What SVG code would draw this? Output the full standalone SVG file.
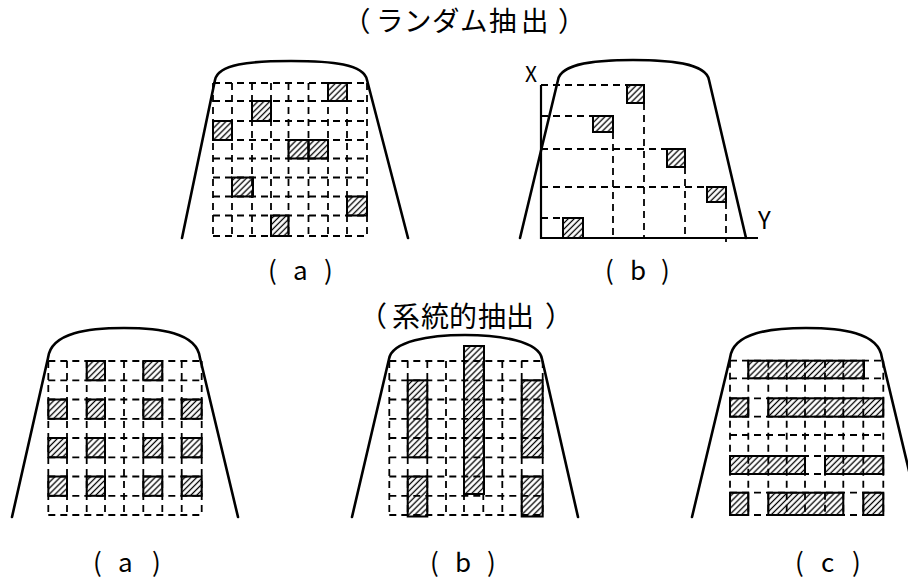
<svg xmlns="http://www.w3.org/2000/svg" width="908" height="578" viewBox="0 0 908 578">
<style>
.outline{fill:none;stroke:#000;stroke-width:2.6;stroke-linejoin:round;stroke-linecap:round}
.axis{fill:none;stroke:#000;stroke-width:2.2}
.grid{fill:none;stroke:#000;stroke-width:1.8;stroke-dasharray:7 5}
.h{fill:url(#hatch);stroke:#000;stroke-width:2}
.t{font-family:"Noto Sans CJK JP","Noto Sans",sans-serif;fill:#000}
</style>
<defs>
<pattern id="hatch" patternUnits="userSpaceOnUse" width="4.2" height="4.2" patternTransform="rotate(45)">
<line x1="2.1" y1="0" x2="2.1" y2="4.2" stroke="#000" stroke-width="1.3"/>
</pattern>
</defs>
<rect width="908" height="578" fill="#fff"/>

<text class="t" font-size="27.5" y="31" x="343 376 404 432 460 489 521 558">（ランダム抽出）</text>
<text class="t" font-size="28" y="327" x="359 392 421 449 478 506 545">（系統的抽出）</text>

<g id="random-a">
<path class="grid" d="M213 83H367M213 101H367M213 121H367M213 140H367M213 158.5H367M213 177.5H367M213 196.5H367M213 215.5H367M213 236H367M213 83V239M232 83V239M252 83V239M271 83V239M288.5 83V239M308.5 83V239M328 83V239M347 83V239M367 83V239"/>
<rect class="h" x="328" y="83" width="19" height="18"/>
<rect class="h" x="252" y="101" width="19" height="20"/>
<rect class="h" x="213" y="121" width="19" height="19"/>
<rect class="h" x="288.5" y="140" width="20" height="18.5"/>
<rect class="h" x="308.5" y="140" width="19.5" height="18.5"/>
<rect class="h" x="232" y="177.5" width="21" height="19"/>
<rect class="h" x="347" y="196.5" width="20" height="19"/>
<rect class="h" x="271" y="215.5" width="17.5" height="20.5"/>
<path class="outline" d="M215 80C218 64 250 61 291 61C332 61 364 64 367 80M215 80L182 238M367 80L408 238"/>
<text class="t" font-size="26" y="280" x="268 280 293 312 324">( a )</text>
</g>

<g id="random-b">
<path class="axis" d="M541 85V238H758"/>
<path class="grid" d="M541 85H627M644 103V238M541 116H593M613 132V238M541 149H667M685 167V238M541 187H707M726 202V242M541 218H563"/>
<rect class="h" x="627" y="85" width="17" height="18"/>
<rect class="h" x="593" y="116" width="20" height="16"/>
<rect class="h" x="667" y="149" width="18" height="18"/>
<rect class="h" x="707" y="187" width="19" height="15"/>
<rect class="h" x="563" y="218" width="20" height="20"/>
<path class="outline" d="M558 80C561 63 598 60 633 60C668 60 706 63 709 80M558 80L520 238M709 80L746 238"/>
<text class="t" font-size="21" x="525" y="82">X</text>
<text class="t" font-size="24" x="758" y="229">Y</text>
<text class="t" font-size="26" y="280" x="605 615 630 648 661">( b )</text>
</g>

<g id="systematic-a">
<path class="grid" d="M48.3 361H201.7M48.3 380.3H201.7M48.3 399.5H201.7M48.3 418.8H201.7M48.3 438H201.7M48.3 457.3H201.7M48.3 476.5H201.7M48.3 495.8H201.7M48.3 515H201.7M48.3 361V517M67 361V517M86.7 361V517M105 361V517M124 361V517M143.3 361V517M162.3 361V517M181.7 361V517M201.7 361V517"/>
<rect class="h" x="86.7" y="361" width="18.3" height="19.3"/>
<rect class="h" x="143.3" y="361" width="19" height="19.3"/>
<rect class="h" x="48.3" y="399.5" width="18.7" height="19.3"/>
<rect class="h" x="86.7" y="399.5" width="18.3" height="19.3"/>
<rect class="h" x="143.3" y="399.5" width="19" height="19.3"/>
<rect class="h" x="181.7" y="399.5" width="20" height="19.3"/>
<rect class="h" x="48.3" y="438" width="18.7" height="19.3"/>
<rect class="h" x="86.7" y="438" width="18.3" height="19.3"/>
<rect class="h" x="143.3" y="438" width="19" height="19.3"/>
<rect class="h" x="181.7" y="438" width="20" height="19.3"/>
<rect class="h" x="48.3" y="476.5" width="18.7" height="19.3"/>
<rect class="h" x="86.7" y="476.5" width="18.3" height="19.3"/>
<rect class="h" x="143.3" y="476.5" width="19" height="19.3"/>
<rect class="h" x="181.7" y="476.5" width="20" height="19.3"/>
<path class="outline" d="M48 358C51 332 90 328 124 328C158 328 197 332 200 358M48 358L12 517M200 358L238 517"/>
<text class="t" font-size="26" y="572" x="93 105 118 138 152">( a )</text>
</g>

<g id="systematic-b">
<path class="grid" d="M389.3 361H542.7M389.3 380.3H542.7M389.3 399.5H542.7M389.3 418.8H542.7M389.3 438H542.7M389.3 457.3H542.7M389.3 476.5H542.7M389.3 495.8H542.7M389.3 515H542.7M389.3 361V517M407.7 361V517M427.3 361V517M446 361V517M464 361V517M483.3 361V517M502.3 361V517M521.7 361V517M542.7 361V517"/>
<rect class="h" x="407.7" y="380.3" width="19.6" height="77"/>
<rect class="h" x="407.7" y="476.5" width="19.6" height="40"/>
<rect class="h" x="464" y="346" width="20" height="148"/>
<rect class="h" x="521.7" y="380.3" width="21" height="77"/>
<rect class="h" x="521.7" y="476.5" width="21" height="40"/>
<path class="outline" d="M389 359C392 341 430 335 465 335C500 335 539 341 542 359M389 359L352 517M542 359L578 517"/>
<text class="t" font-size="26" y="572" x="430 442 455 474 487">( b )</text>
</g>

<g id="systematic-c">
<path class="grid" d="M730 360.7H883.3M730 378.3H883.3M730 398.3H883.3M730 416.7H883.3M730 435H883.3M730 456H883.3M730 474H883.3M730 492.7H883.3M730 515H883.3M730 360.7V516M748.3 360.7V516M768.3 360.7V516M786.7 360.7V516M805 360.7V516M825 360.7V516M843.3 360.7V516M863.3 360.7V516M883.3 360.7V516"/>
<rect class="h" x="748.3" y="360.7" width="115.7" height="17.6"/>
<rect class="h" x="730" y="398.3" width="18.3" height="18.4"/>
<rect class="h" x="768.3" y="398.3" width="115" height="18.4"/>
<rect class="h" x="730" y="456" width="75" height="18"/>
<rect class="h" x="825" y="456" width="58.3" height="18"/>
<rect class="h" x="730" y="492.7" width="18.3" height="22.3"/>
<rect class="h" x="768.3" y="492.7" width="75" height="22.3"/>
<rect class="h" x="863.3" y="492.7" width="20" height="22.3"/>
<path class="outline" d="M730 358C733 332 772 328 806 328C840 328 879 332 882 358M730 358L692 517M882 358L922 525"/>
<text class="t" font-size="26" y="572" x="795 807 821 840 852">( c )</text>
</g>
</svg>
